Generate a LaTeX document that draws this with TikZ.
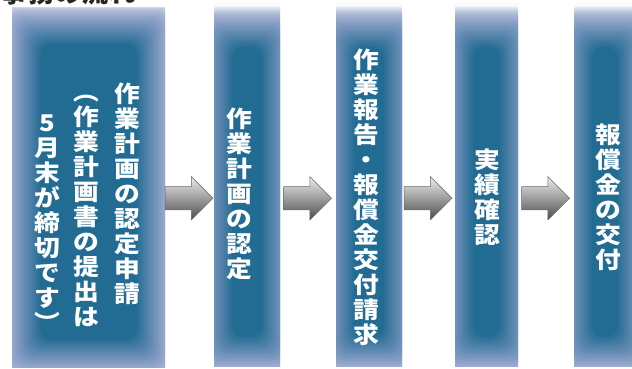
\documentclass[tikz,border=0pt]{standalone}
\usepackage{fontspec}
\newfontfamily\jp{Noto Sans CJK JP}
\newfontfamily\jpwide[FakeStretch=1.12]{Noto Sans CJK JP}
\usetikzlibrary{shapes.arrows,calc}

\definecolor{stagecore}{RGB}{0,96,130}
\definecolor{stageglow}{RGB}{120,146,190}
\definecolor{stageedge}{RGB}{250,249,253}

\begin{document}
\begin{tikzpicture}[x=1pt, y=1pt, every node/.style={inner sep=0pt},
	stage/.style n args={4}{minimum width=#1, minimum height=364pt, anchor=south west, fill=stageedge,
		path picture={
			\foreach \k in {20,19,...,0}{
				\pgfmathtruncatemacro\mix{max(0,100-\k*7)}
				\fill[stagecore!\mix!stageglow, opacity=0.19, rounded corners=12pt]
					([shift={(#2-\k*2pt, #3-\k*2pt)}]path picture bounding box.south west) rectangle
					([shift={(-#2+\k*2pt, -#4+\k*2pt)}]path picture bounding box.north east);
			}
		}},
	flow/.style={single arrow, minimum height=48pt, inner ysep=11.5pt, single arrow head extend=10pt,
		single arrow head indent=0pt, shading=axis, top color=gray!15, bottom color=black!70,
		draw=black!60, line width=0.4pt, xshift=-6.5pt},
	stagetext/.style={text=white, font=\jpwide\bfseries\fontsize{23}{25}\selectfont, align=center}]
\useasboundingbox (0,0) rectangle (632,369);

% Specification of nodes (position, etc.)
\node (apply)			[stage={153pt}{28pt}{28pt}{36pt}, minimum height=360pt]	at (12,1)	{};
\node (approval)		[stage={66pt}{18pt}{30pt}{44pt}]		at (214,2)	{};
\node (report)			[stage={66pt}{18pt}{30pt}{44pt}]		at (336,2)	{};
\node (review)			[stage={63pt}{18pt}{30pt}{44pt}]		at (455,2)	{};
\node (payment)			[stage={62pt}{18pt}{30pt}{44pt}]		at (574,2)	{};

\node (arrow1)			[flow]	at ($(apply.east)!0.5!(approval.west)+(0,-12)$)		{};
\node (arrow2)			[flow]	at ($(approval.east)!0.5!(report.west)+(0,-13.5)$)	{};
\node (arrow3)			[flow]	at ($(report.east)!0.5!(review.west)+(0,-13.5)$)	{};
\node (arrow4)			[flow]	at ($(review.east)!0.5!(payment.west)+(0,-13.5)$)	{};

\node (apply-main)		[stagetext, anchor=north]	at (127,286)	{作\\業\\計\\画\\の\\認\\定\\申\\請};
\node (apply-note1)		[stagetext, anchor=north]	at (86,274)		{︵\\作\\業\\計\\画\\書\\の\\提\\出\\は};
\node (apply-note2)		[stagetext, anchor=north]	at (47,254)		{5\\月\\末\\が\\締\\切\\で\\す\\︶};

\node (approval-text)	[stagetext]	at (239,175)	{作\\業\\計\\画\\の\\認\\定};
\node (report-text)		[stagetext]	at (366,171.5)	{作\\業\\報\\告\\・\\報\\償\\金\\交\\付\\請\\求};
\node (review-text)		[stagetext]	at (487,172)	{実\\績\\確\\認};
\node (payment-text)	[stagetext]	at (608,172)	{報\\償\\金\\の\\交\\付};

\node (title)	[anchor=base west, text=black!85, font=\jp\bfseries\fontsize{27}{27}\selectfont]	at (0,366)	{事務の流れ};

\end{tikzpicture}
\end{document}
